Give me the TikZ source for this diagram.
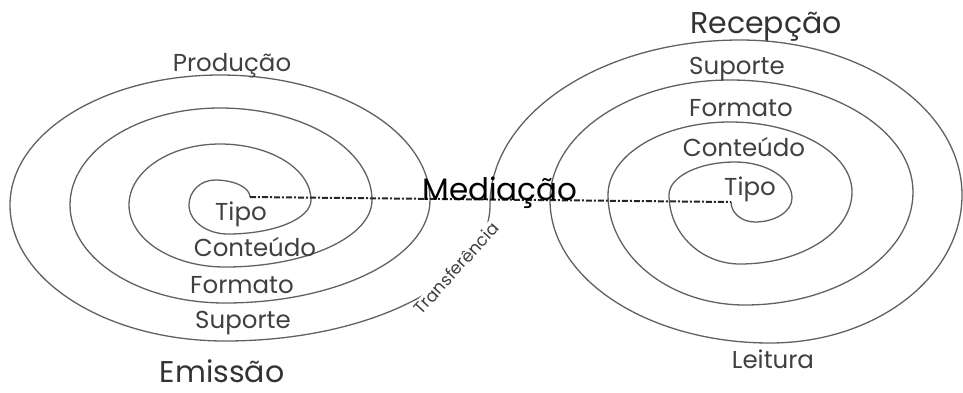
\documentclass[tikz,border=0pt]{standalone}
\usepackage{fontspec}
\setmainfont{Poppins}
\begin{document}
\begin{tikzpicture}[x=1pt,y=-1pt,
  spiral/.style={draw=black!62, line width=1.3pt},
  lbl/.style={inner sep=0pt, anchor=base, text=black!75, font=\fontsize{24.5}{28}\selectfont},
  big/.style={inner sep=0pt, anchor=base, text=black!80, font=\fontsize{30}{34}\selectfont},
  medline/.style={draw=black!85, line width=2pt, dash pattern=on 6pt off 2pt on 2pt off 2pt}]
\fill[white] (0,0) rectangle (963,392);
\useasboundingbox (0,0) rectangle (963,392);
\coordinate (ls) at (250,197);
\coordinate (rs) at (731,202);
% left spiral (from centre outward) joined to right spiral
\path[spiral] (ls)
  .. controls (250,187.6) and (234.3,180) .. (215,180)
  .. controls (200.6,180) and (189,191.2) .. (189,205)
  .. controls (189,221.0) and (206.5,234) .. (228,234)
  .. controls (273.8,234) and (311,218.8) .. (311,200)
  .. controls (311,169.1) and (270.3,144) .. (220,144)
  .. controls (169.7,144) and (129,171.3) .. (129,205)
  .. controls (129,239.2) and (172.0,267) .. (225,267)
  .. controls (306.2,267) and (372,237.0) .. (372,200)
  .. controls (372,149.2) and (303.9,108) .. (220,108)
  .. controls (137.2,108) and (70,151.4) .. (70,205)
  .. controls (70,259.1) and (139.4,303) .. (225,303)
  .. controls (338.2,303) and (430,256.9) .. (430,200)
  .. controls (430,131.0) and (336.0,75) .. (220,75)
  .. controls (104.0,75) and (10,133.2) .. (10,205)
  .. controls (10,280.1) and (106.3,341) .. (225,341)
  .. controls (371.4,341) and (490,280.1) .. (490,205)
  .. controls (490,113.9) and (601.9,40) .. (740,40)
  .. controls (862.6,40) and (962,109.4) .. (962,195)
  .. controls (962,276.7) and (876.0,343) .. (770,343)
  .. controls (648.5,343) and (550,279.0) .. (550,200)
  .. controls (550,133.7) and (630.6,80) .. (730,80)
  .. controls (831.1,80) and (913,130.1) .. (913,192)
  .. controls (913,254.4) and (837.8,305) .. (745,305)
  .. controls (669.3,305) and (608,255.8) .. (608,195)
  .. controls (608,154.7) and (662.6,122) .. (730,122)
  .. controls (797.4,122) and (852,153.3) .. (852,192)
  .. controls (852,231.8) and (801.9,264) .. (740,264)
  .. controls (700.8,264) and (669,233.1) .. (669,195)
  .. controls (669,176.8) and (698.5,162) .. (735,162)
  .. controls (766.5,162) and (792,178.1) .. (792,198)
  .. controls (792,211.3) and (775.4,222) .. (755,222)
  .. controls (741.7,222) and (731,213.0) .. (rs);
% mediation line
\draw[medline] (ls) -- (rs);
% left labels
\node[lbl] (prod) at (232,71) {Produção};
\node[lbl] (tipoL) at (241,220) {Tipo};
\node[lbl] (contL) at (255,256) {Conteúdo};
\node[lbl] (formL) at (242,293) {Formato};
\node[lbl] (supL) at (243,328) {Suporte};
\node[big] (emis) at (222,382) {Emissão};
% right labels
\node[big] (recep) at (766,33) {Recepção};
\node[lbl] (supR) at (737,74) {Suporte};
\node[lbl] (formR) at (741,116) {Formato};
\node[lbl] (contR) at (744,156) {Conteúdo};
\node[lbl] (tipoR) at (750,195) {Tipo};
\node[lbl] (leit) at (773,368) {Leitura};
% centre
\node[big, text=black, font=\fontsize{31}{35}\selectfont] (med) at (500,200) {Mediação};
\node[inner sep=0.5pt, fill=white, rotate=48, text=black!75, font=\fontsize{17}{19}\selectfont] (transf) at (456,268) {Transferência};
\end{tikzpicture}
\end{document}
